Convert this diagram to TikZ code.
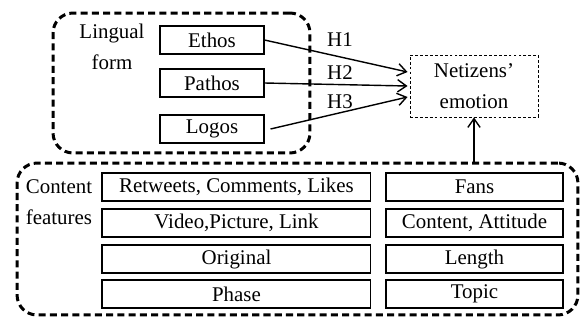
\documentclass[tikz,border=0pt]{standalone}
\usepackage{fontspec}
\setmainfont{Liberation Serif}
\usepackage{tikz}
\usetikzlibrary{positioning,arrows.meta,calc}

\begin{document}
\begin{tikzpicture}[x=0.02cm, y=-0.02cm, font=\fontsize{11.9}{17.5}\selectfont,
  box/.style={draw, line width=0.6pt, inner sep=0pt, minimum height=0.56cm},
  group/.style={draw, line width=1.7pt, dash pattern=on 4pt off 2.4pt, rounded corners=0.4cm, inner sep=0pt},
  hyp/.style={-{Straight Barb[length=5pt,width=7pt]}, line width=0.8pt}]
  \useasboundingbox (0,0) rectangle (583,322);
  % lingual form
  \node[group, minimum width=5.14cm, minimum height=2.8cm] (lingual) at (181.5,83) {};
  \node[align=center] (lingtitle) at (112,47) {Lingual\\form};
  \node[box, minimum width=2.08cm] (ethos) at (212,40) {Ethos};
  \node[box, minimum width=2.08cm] (pathos) at (212,83) {Pathos};
  \node[box, minimum width=2.08cm] (logos) at (212,129) {Logos};
  % outcome
  \node[draw, line width=0.5pt, dash pattern=on 1.6pt off 1.2pt, align=center,
        minimum width=2.56cm, minimum height=1.24cm] (emo) at (474,86) {Netizens'\\emotion};
  \draw[hyp] (ethos.east) -- ($(emo.west)+(-2,-14)$);
  \draw[hyp] (pathos.east) -- ($(emo.west)+(-2,0)$);
  \draw[hyp] ($(logos.east)+(6,0)$) -- ($(emo.west)+(-2,11)$);
  \node (h1) at (340,40) {H1};
  \node (h2) at (340,73) {H2};
  \node (h3) at (340,102) {H3};
  % content features
  \node[group, minimum width=11.22cm, minimum height=3.04cm] (content) at (297.5,239) {};
  \node[align=left] (conttitle) at (59,202) {Content\\features};
  \foreach \i/\y/\l/\r in {1/187/{Retweets, Comments, Likes}/Fans,
                           2/223/{Video,Picture, Link}/{Content, Attitude},
                           3/259/Original/Length,
                           4/294/Phase/Topic}{
    \node[box, minimum width=5.38cm] (left\i) at (236.5,\y) {\l};
    \node[box, minimum width=3.54cm] (right\i) at (474.5,\y) {\r};
  }
  \draw[hyp] (content.north -| emo.south) -- (emo.south);
\end{tikzpicture}
\end{document}
